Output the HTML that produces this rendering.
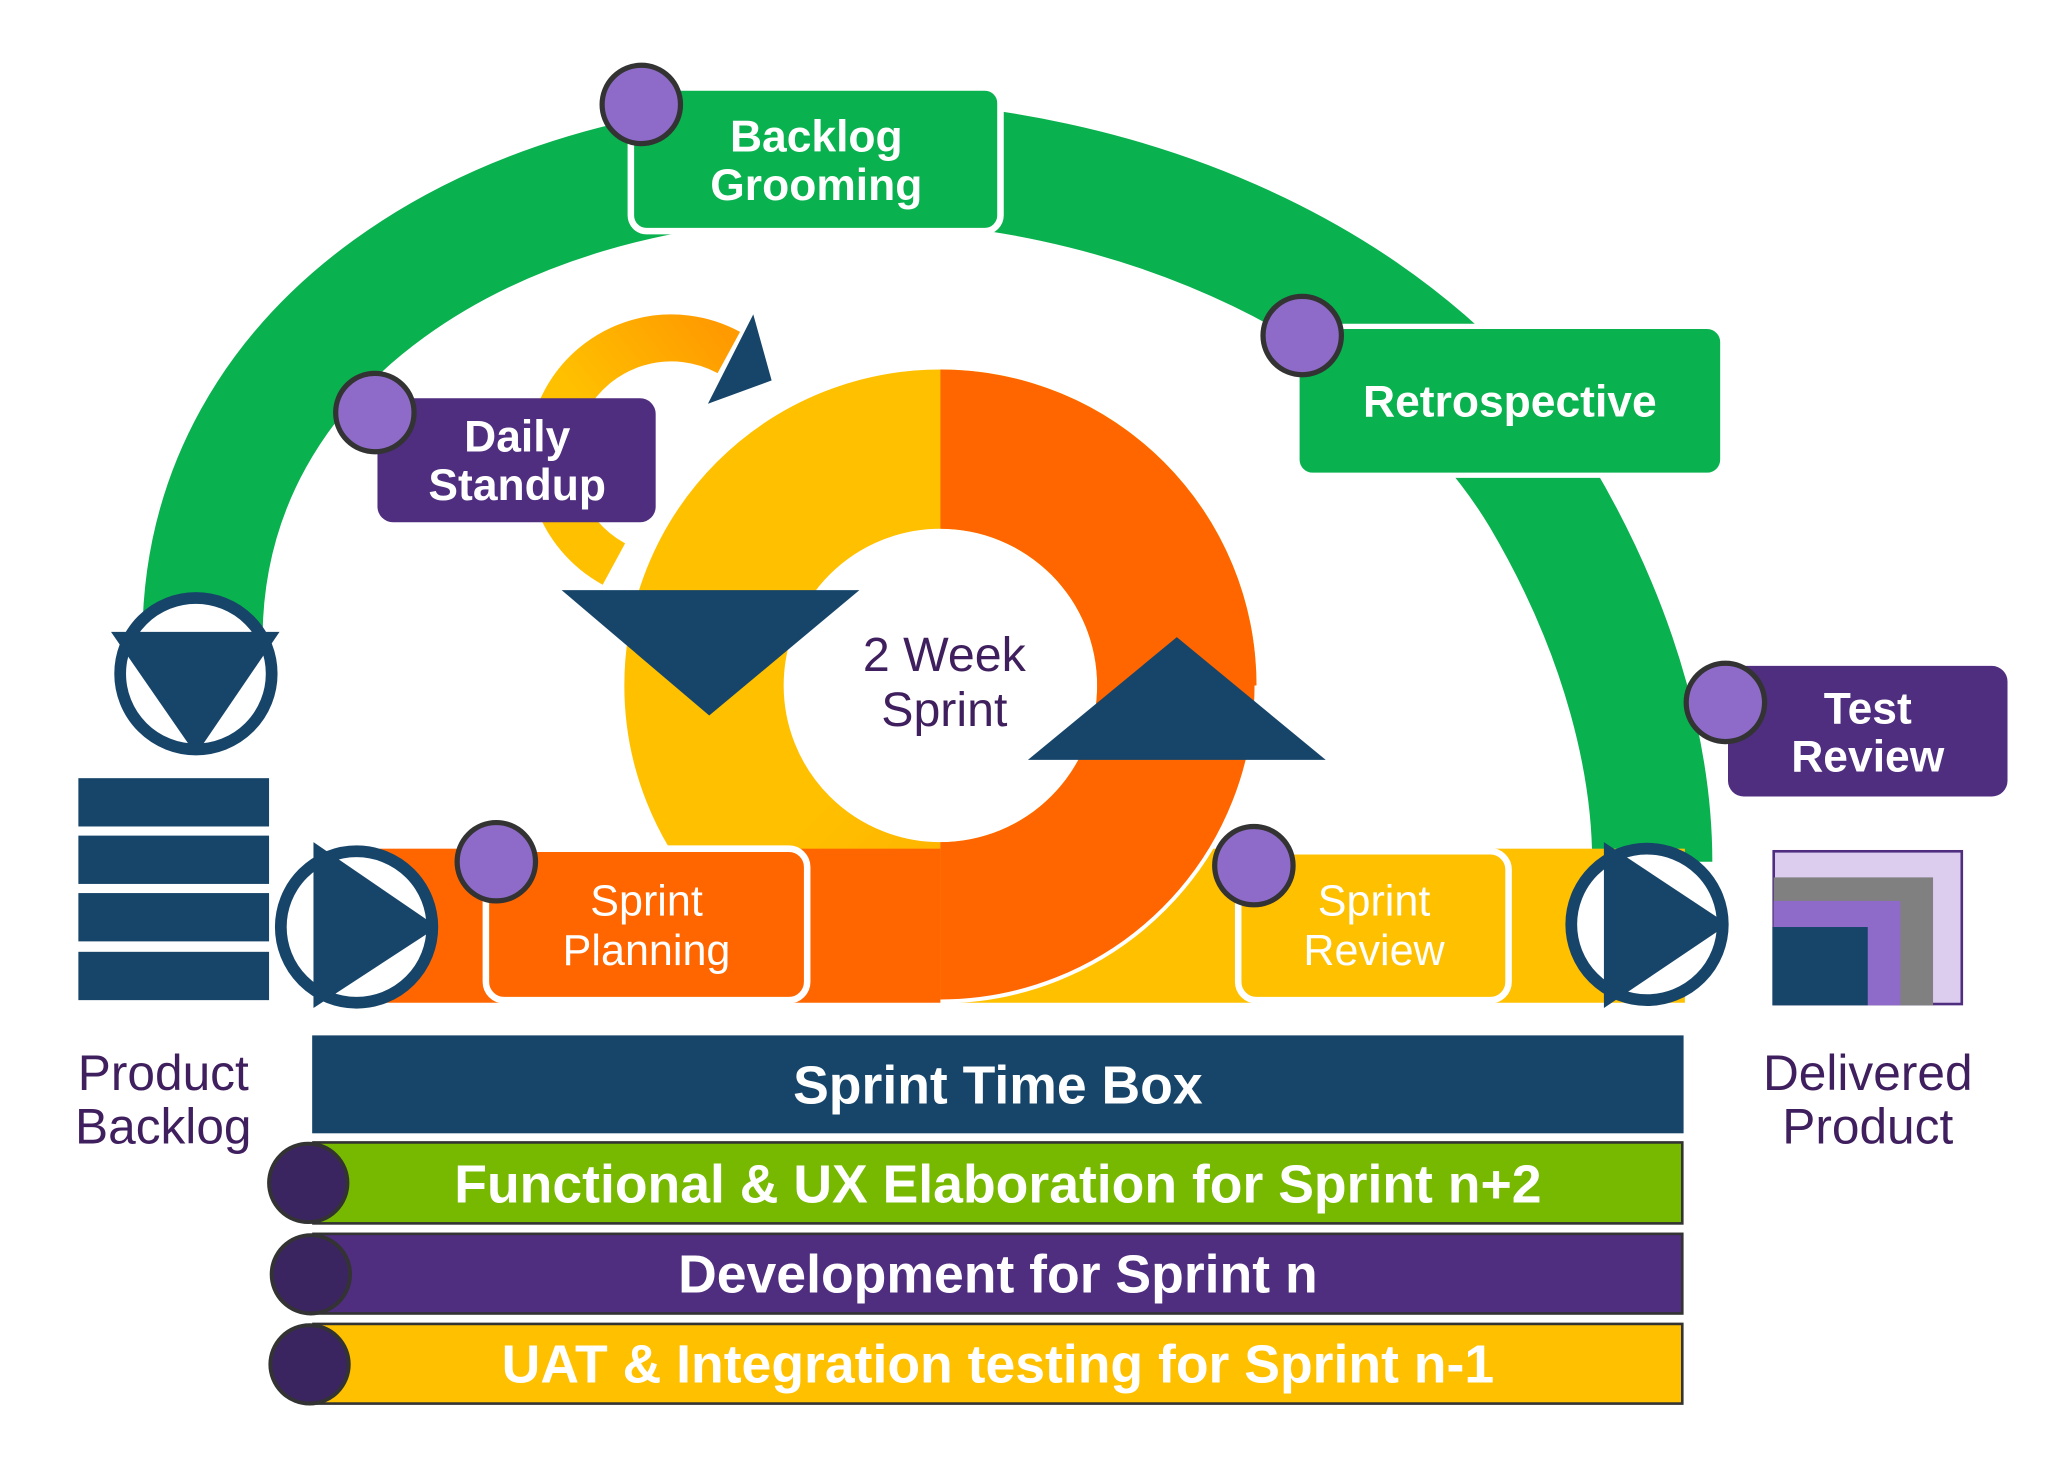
<!DOCTYPE html>
<html><head><meta charset="utf-8"><style>
html,body{margin:0;padding:0;background:#fff;}
svg{display:block;}
text{font-family:"Liberation Sans",sans-serif;}
</style></head><body>
<svg width="2048" height="1478" viewBox="0 0 1568 1132" preserveAspectRatio="none" xmlns="http://www.w3.org/2000/svg">
<defs>
<linearGradient id="yg" x1="0" y1="1" x2="1" y2="0"><stop offset="0.45" stop-color="#ffc000"/><stop offset="1" stop-color="#ff9a00"/></linearGradient>
<linearGradient id="yg2" x1="0" y1="0" x2="1" y2="1"><stop offset="0.5" stop-color="#ffc000"/><stop offset="1" stop-color="#ffa000"/></linearGradient>
</defs>
<rect width="1568" height="1132" fill="#fff"/>
<path d="M155 490 C 155 260 380 125 625 122 C 880 118 1090 230 1180 380 C 1245 490 1265 590 1265 660" fill="none" stroke="#0ab14f" stroke-width="92"/>
<path d="M470 432 A 82 82 0 1 1 558 270" fill="none" stroke="url(#yg)" stroke-width="36"/>
<polygon points="577,238 592,292 540,311" fill="#17456a" stroke="#fff" stroke-width="2"/>
<circle cx="720" cy="525" r="181" fill="none" stroke="url(#yg2)" stroke-width="122"/>
<rect x="262" y="650" width="460" height="118" fill="#ff6600"/>
<rect x="720" y="650" width="570" height="118" fill="#ffc000"/>
<path d="M720 283 A 242 242 0 0 1 720 767 L 720 645 A 120 120 0 0 0 720 405 Z" fill="#ff6600"/>
<path d="M720 767 A 242 242 0 0 0 962 525" fill="none" stroke="#fff" stroke-width="3"/>
<text x="723" y="514" font-size="37" fill="#3f1f5e" text-anchor="middle">2 Week</text>
<text x="723" y="556" font-size="37" fill="#3f1f5e" text-anchor="middle">Sprint</text>
<polygon points="430,452 658,452 543,548" fill="#17456a"/>
<polygon points="787,582 1015,582 901,488" fill="#17456a"/>
<rect x="483" y="67" width="283" height="110" rx="12" fill="#0ab14f" stroke="#fff" stroke-width="5"/>
<text x="625" y="116" font-size="34" font-weight="bold" fill="#fff" text-anchor="middle">Backlog</text>
<text x="625" y="153" font-size="34" font-weight="bold" fill="#fff" text-anchor="middle">Grooming</text>
<rect x="993" y="250" width="326" height="114" rx="12" fill="#0ab14f" stroke="#fff" stroke-width="4"/>
<text x="1156" y="319" font-size="34" font-weight="bold" fill="#fff" text-anchor="middle">Retrospective</text>
<rect x="1323" y="510" width="214" height="100" rx="12" fill="#4f2d7f"/>
<text x="1430" y="554" font-size="34" font-weight="bold" fill="#fff" text-anchor="middle">Test</text>
<text x="1430" y="591" font-size="34" font-weight="bold" fill="#fff" text-anchor="middle">Review</text>
<rect x="289" y="305" width="213" height="95" rx="12" fill="#4f2d7f"/>
<text x="396" y="346" font-size="34" font-weight="bold" fill="#fff" text-anchor="middle">Daily</text>
<text x="396" y="383" font-size="34" font-weight="bold" fill="#fff" text-anchor="middle">Standup</text>
<rect x="372" y="650" width="246" height="116" rx="14" fill="#ff6600" stroke="#fff" stroke-width="5"/>
<text x="495" y="701" font-size="33" fill="#fff" text-anchor="middle">Sprint</text>
<text x="495" y="739" font-size="33" fill="#fff" text-anchor="middle">Planning</text>
<rect x="948" y="652" width="207" height="114" rx="14" fill="#ffc000" stroke="#fff" stroke-width="5"/>
<text x="1052" y="701" font-size="33" fill="#fff" text-anchor="middle">Sprint</text>
<text x="1052" y="739" font-size="33" fill="#fff" text-anchor="middle">Review</text>
<g fill="#8e6bc9" stroke="#333" stroke-width="4">
<circle cx="491" cy="80" r="30"/><circle cx="997" cy="257" r="30"/><circle cx="1321" cy="538" r="30"/>
<circle cx="287" cy="316" r="30"/><circle cx="380" cy="660" r="30"/><circle cx="960" cy="663" r="30"/>
</g>
<circle cx="150" cy="516" r="58" fill="#fff" stroke="#17456a" stroke-width="9"/>
<polygon points="85,484 214,484 150,578" fill="#17456a"/>
<circle cx="273" cy="710" r="58" fill="#fff" stroke="#17456a" stroke-width="9"/>
<polygon points="240,645 240,772 335,710" fill="#17456a"/>
<circle cx="1261" cy="708" r="58" fill="#fff" stroke="#17456a" stroke-width="9"/>
<polygon points="1228,645 1228,772 1323,708" fill="#17456a"/>
<g fill="#17456a">
<rect x="60" y="596" width="146" height="37"/><rect x="60" y="640" width="146" height="37"/>
<rect x="60" y="684" width="146" height="37"/><rect x="60" y="729" width="146" height="37"/>
</g>
<text x="125" y="835" font-size="38" fill="#3f1f5e" text-anchor="middle">Product</text>
<text x="125" y="876" font-size="38" fill="#3f1f5e" text-anchor="middle">Backlog</text>
<rect x="1358" y="652" width="144" height="117" fill="#dccdef" stroke="#4f2d7f" stroke-width="2"/>
<rect x="1358" y="672" width="122" height="98" fill="#808080"/>
<rect x="1358" y="690" width="97" height="80" fill="#8e6bc9"/>
<rect x="1357" y="710" width="73" height="60" fill="#17456a"/>
<text x="1430" y="835" font-size="38" fill="#3f1f5e" text-anchor="middle">Delivered</text>
<text x="1430" y="876" font-size="38" fill="#3f1f5e" text-anchor="middle">Product</text>
<rect x="239" y="793" width="1050" height="75" fill="#17456a"/>
<text x="764" y="845" font-size="41" font-weight="bold" fill="#fff" text-anchor="middle">Sprint Time Box</text>
<rect x="240" y="875" width="1048" height="62" fill="#76b900" stroke="#333" stroke-width="2"/>
<circle cx="236" cy="906" r="30" fill="#3b2560" stroke="#333" stroke-width="3"/>
<text x="764" y="921" font-size="41" font-weight="bold" fill="#fff" text-anchor="middle">Functional &amp; UX Elaboration for Sprint n+2</text>
<rect x="240" y="945" width="1048" height="61" fill="#4f2d7f" stroke="#333" stroke-width="2"/>
<circle cx="238" cy="976" r="30" fill="#3b2560" stroke="#333" stroke-width="3"/>
<text x="764" y="990" font-size="41" font-weight="bold" fill="#fff" text-anchor="middle">Development for Sprint n</text>
<rect x="240" y="1014" width="1048" height="61" fill="#ffc000" stroke="#333" stroke-width="2"/>
<circle cx="237" cy="1045" r="30" fill="#3b2560" stroke="#333" stroke-width="3"/>
<text x="764" y="1059" font-size="41" font-weight="bold" fill="#fff" text-anchor="middle">UAT &amp; Integration testing for Sprint n-1</text>
</svg>
</body></html>
